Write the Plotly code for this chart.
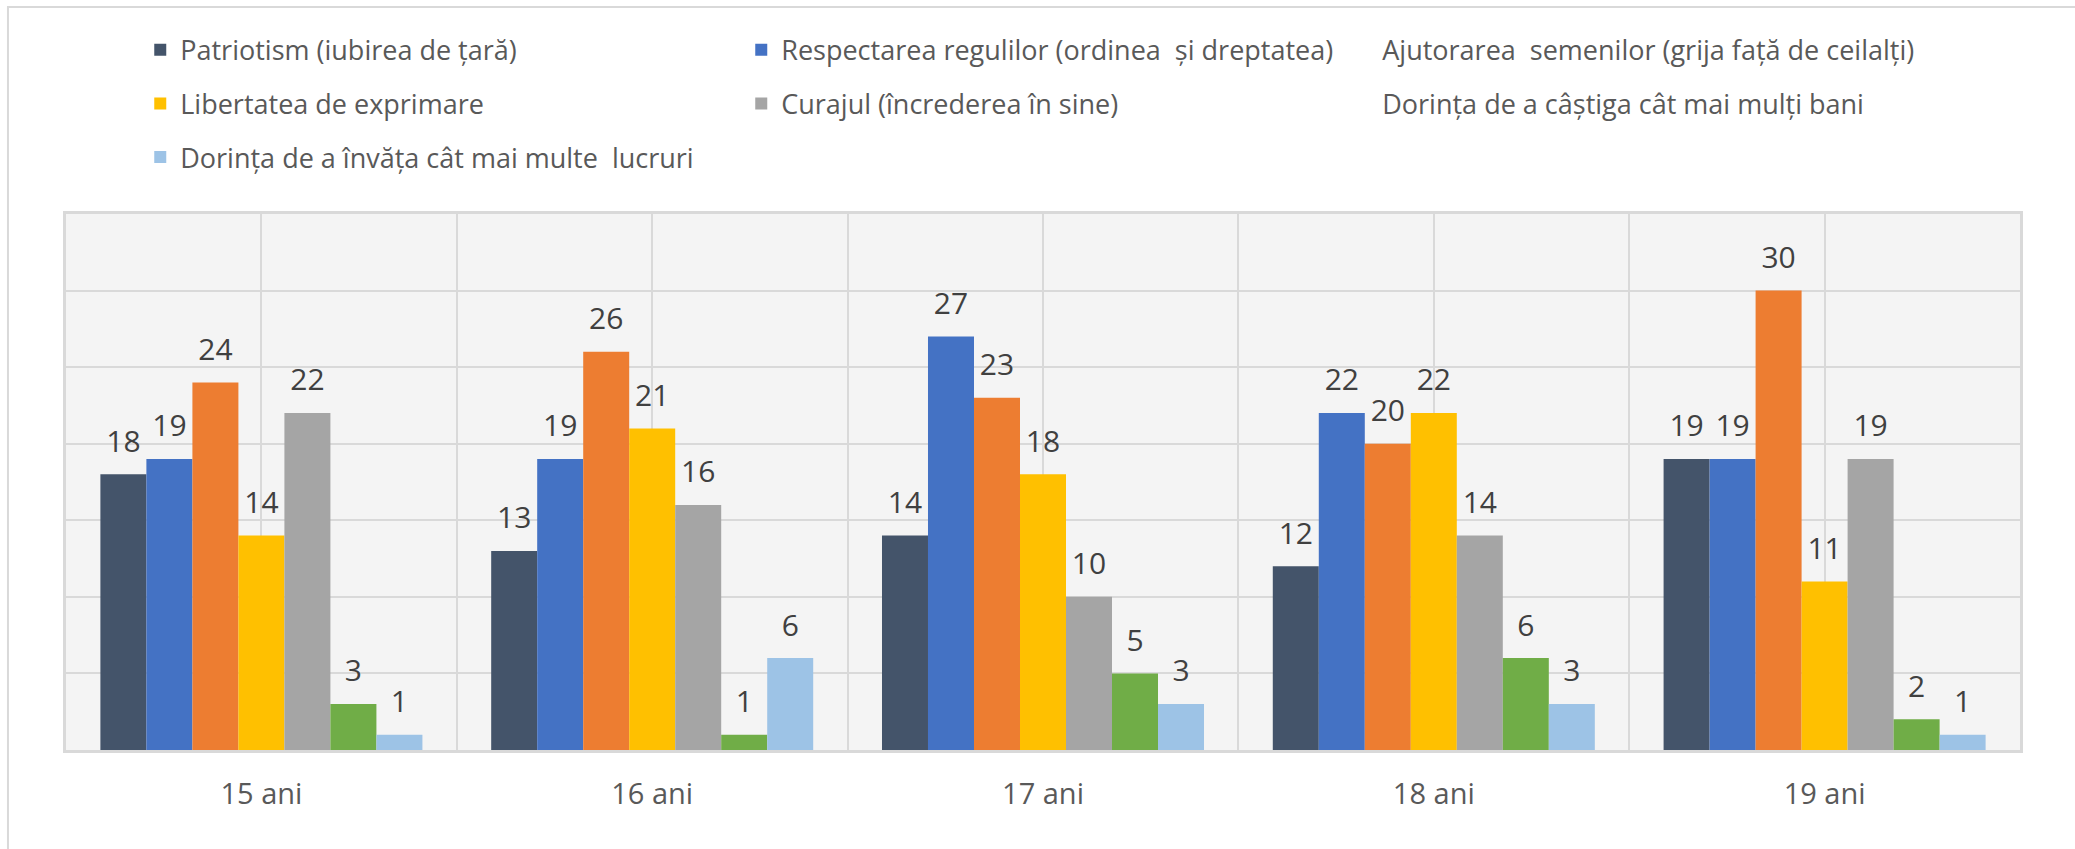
import plotly.graph_objects as go

# Age groups on the category axis
ages = ["15 ani", "16 ani", "17 ani", "18 ani", "19 ani"]

# Values per series (one value per age group)
patriotism = [18, 13, 14, 12, 19]
respectarea = [19, 19, 27, 22, 19]
ajutorarea = [24, 26, 23, 20, 30]
libertatea = [14, 21, 18, 22, 11]
curajul = [22, 16, 10, 14, 19]
castig_bani = [3, 1, 5, 6, 2]
invatare = [1, 6, 3, 3, 1]

names = [
    "Patriotism (iubirea de țară)",
    "Respectarea regulilor (ordinea  și dreptatea)",
    "Ajutorarea  semenilor (grija față de ceilalți)",
    "Libertatea de exprimare",
    "Curajul (încrederea în sine)",
    "Dorința de a câștiga cât mai mulți bani",
    "Dorința de a învăța cât mai multe  lucruri",
]
colors = ["#44546A", "#4472C4", "#ED7D31", "#FFC000", "#A5A5A5", "#70AD47", "#9DC3E6"]
values = [patriotism, respectarea, ajutorarea, libertatea, curajul, castig_bani, invatare]

# which legend row each series goes to, and whether its legend swatch is shown
legend_rows = ["legend", "legend", "legend", "legend2", "legend2", "legend2", "legend3"]
swatch_shown = [True, True, False, True, True, False, True]

FONT = "Open Sans, sans-serif"
LABEL_SIZE = 30

x_pos = list(range(len(ages)))

fig = go.Figure()
for name, color, vals, leg, swatch in zip(names, colors, values, legend_rows, swatch_shown):
    fig.add_trace(go.Bar(
        x=x_pos,
        y=vals,
        name=name,
        marker=dict(color=color, line=dict(width=0)),
        texttemplate=f"<span style='font-size:{LABEL_SIZE}px'>%{{y}}</span><br>&nbsp;",
        textposition="outside",
        textfont=dict(family=FONT, size=12, color="#404040"),
        constraintext="none",
        cliponaxis=False,
        legend=leg,
        showlegend=swatch,
        hoverinfo="x+y+name",
    ))

# legend entries without a visible swatch
for name, leg, swatch in zip(names, legend_rows, swatch_shown):
    if not swatch:
        fig.add_trace(go.Scatter(
            x=[None], y=[None], mode="markers", name=name,
            marker=dict(color="rgba(0,0,0,0)", size=1),
            legend=leg, showlegend=True, hoverinfo="skip",
        ))

legend_style = dict(
    orientation="h",
    xanchor="left",
    yanchor="middle",
    x=0.038,
    font=dict(family=FONT, size=27, color="#595959"),
    entrywidth=556,
    entrywidthmode="pixels",
    bgcolor="rgba(0,0,0,0)",
    itemclick=False,
    itemdoubleclick=False,
)

fig.update_layout(
    width=2075,
    height=849,
    margin=dict(l=66, r=55, t=214, b=99),
    paper_bgcolor="white",
    plot_bgcolor="#F4F4F4",
    barmode="group",
    bargap=0.176,
    bargroupgap=0,
    font=dict(family=FONT, color="#595959"),
    legend=dict(legend_style, y=1.3055),
    legend2=dict(legend_style, y=1.2055),
    legend3=dict(legend_style, y=1.1055),
    xaxis=dict(
        range=[-0.5, len(ages) - 0.5],
        tickvals=x_pos,
        ticktext=ages,
        tickfont=dict(family=FONT, size=29, color="#595959"),
        ticks="",
        ticklabelstandoff=16,
        showgrid=True,
        gridcolor="#D9D9D9",
        gridwidth=2,
        minor=dict(tick0=-0.5, dtick=1, showgrid=True, gridcolor="#D9D9D9", gridwidth=2),
        showline=True,
        linecolor="#D9D9D9",
        linewidth=3,
        mirror=True,
        zeroline=False,
        fixedrange=True,
    ),
    yaxis=dict(
        range=[0, 35],
        dtick=5,
        showticklabels=False,
        ticks="",
        showgrid=True,
        gridcolor="#D9D9D9",
        gridwidth=2,
        showline=True,
        linecolor="#D9D9D9",
        linewidth=3,
        mirror=True,
        zeroline=False,
        fixedrange=True,
    ),
    shapes=[
        # chart frame (top and left edges fall inside the page)
        dict(type="rect", xref="paper", yref="paper",
             x0=-0.0297, x1=2.0, y0=-1.0, y1=1.386,
             line=dict(color="#D9D9D9", width=2), fillcolor="rgba(0,0,0,0)",
             layer="below"),
    ],
)

fig.write_html("out.html")
